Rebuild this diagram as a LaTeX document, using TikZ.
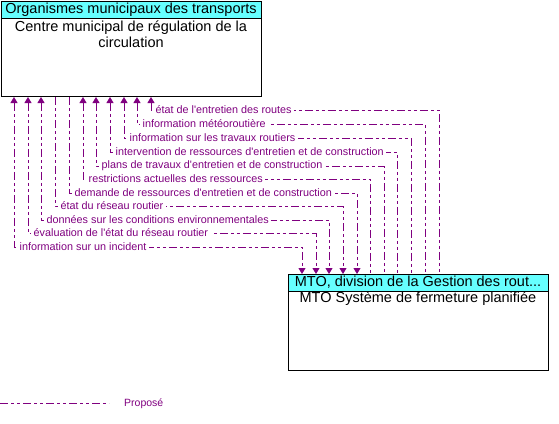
\documentclass[tikz,border=0pt]{standalone}
\usepackage{fontspec}
\setmainfont{Liberation Sans}[Ligatures=TeXOff]
\usetikzlibrary{arrows.meta}
\definecolor{flowc}{RGB}{128,0,128}
\definecolor{headc}{RGB}{102,255,255}
\begin{document}
\begin{tikzpicture}[x=1pt,y=-1pt,
 box/.style={draw=black,line width=1pt,fill=white,anchor=north west,inner sep=0pt,minimum width=260pt},
 head/.style={draw=black,line width=1pt,fill=headc,anchor=north west,inner sep=0pt,minimum width=260pt,minimum height=16.5pt},
 flow/.style={draw=flowc,line width=1pt,dash pattern=on 8pt off 3pt on 3pt off 3pt on 3pt off 3pt,>={Triangle[width=7pt,length=6pt]}},
 lab/.style={font=\fontsize{10.8}{12}\selectfont,text=flowc,fill=white,anchor=west,inner xsep=2.5pt,inner ysep=1pt},
 btext/.style={font=\fontsize{14.5}{16}\selectfont,inner sep=0pt,align=center}]
\useasboundingbox (0,0) rectangle (559,423);
% boxes
\node[box,minimum height=95pt] (A) at (1,1) {};
\node[head] (Ah) at (1,1) {};
\node[btext] (Aht) at (131,9.5) {Organismes municipaux des transports};
\node[btext] (Abt) at (131,34) {Centre municipal de régulation de la\\circulation};
\node[box,minimum height=96pt] (B) at (288,274) {};
\node[head] (Bh) at (288,274) {};
\node[btext] (Bht) at (418,282.5) {MTO, division de la Gestion des rout...};
\node[btext] (Bbt) at (418,299) {MTO Système de fermeture planifiée};
% flows
\draw[flow,<-] (A.south -| 151,0) -- (151,110) -- (439,110) -- (B.north -| 439,0);
\draw[flow,<-] (A.south -| 137,0) -- (137,124) -- (425,124) -- (B.north -| 425,0);
\draw[flow,<-] (A.south -| 124,0) -- (124,138) -- (411,138) -- (B.north -| 411,0);
\draw[flow,<-] (A.south -| 110,0) -- (110,152) -- (397,152) -- (B.north -| 397,0);
\draw[flow,<-] (A.south -| 96,0) -- (96,166) -- (384,166) -- (B.north -| 384,0);
\draw[flow,<-] (A.south -| 83,0) -- (83,179) -- (370,179) -- (B.north -| 370,0);
\draw[flow,->] (A.south -| 69,0) -- (69,193) -- (357,193) -- (B.north -| 357,0);
\draw[flow,->] (A.south -| 55,0) -- (55,206) -- (343,206) -- (B.north -| 343,0);
\draw[flow,<->] (A.south -| 41,0) -- (41,220) -- (329,220) -- (B.north -| 329,0);
\draw[flow,<->] (A.south -| 28,0) -- (28,233) -- (316,233) -- (B.north -| 316,0);
\draw[flow,<->] (A.south -| 14,0) -- (14,247) -- (302,247) -- (B.north -| 302,0);
% labels
\node[lab] (l1) at (153,110) {état de l'entretien des routes};
\node[lab] (l2) at (140,124) {information météoroutière};
\node[lab] (l3) at (127,138) {information sur les travaux routiers};
\node[lab] (l4) at (113,152) {intervention de ressources d'entretien et de construction};
\node[lab] (l5) at (99,166) {plans de travaux d'entretien et de construction};
\node[lab] (l6) at (86,179) {restrictions actuelles des ressources};
\node[lab] (l7) at (72,193) {demande de ressources d'entretien et de construction};
\node[lab] (l8) at (58,206) {état du réseau routier};
\node[lab] (l9) at (44,220) {données sur les conditions environnementales};
\node[lab] (l10) at (31,233) {évaluation de l'état du réseau routier};
\node[lab] (l11) at (17,247) {information sur un incident};
% legend
\coordinate (L1) at (0,403);
\coordinate (L2) at (109,403);
\draw[flow] (L1) -- (L2);
\node[lab,fill=none,font=\fontsize{10.5}{12}\selectfont] (Lt) at (121.5,404) {Proposé};
\end{tikzpicture}
\end{document}
